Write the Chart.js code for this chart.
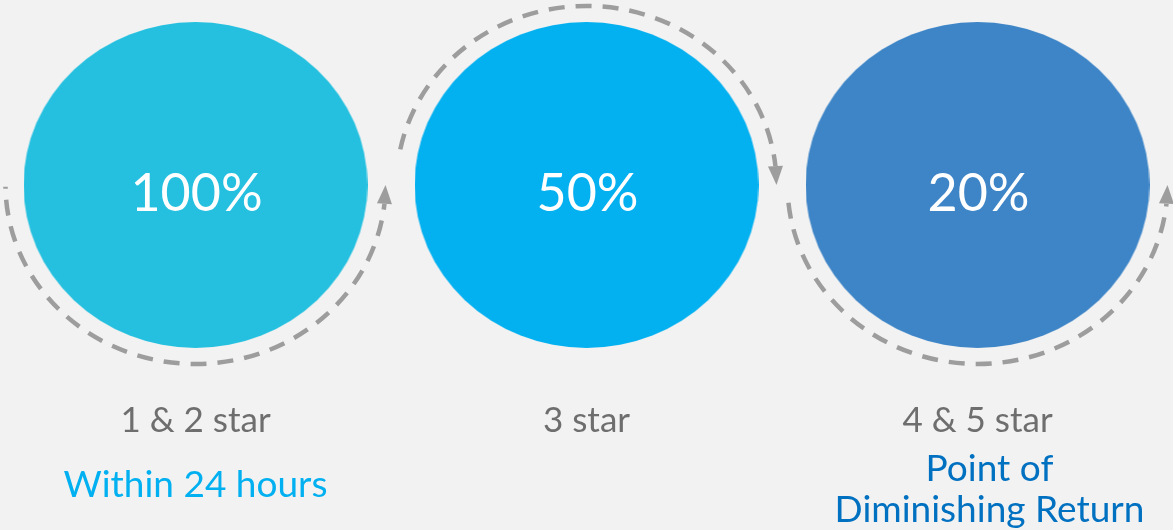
<!DOCTYPE html>
<html>
<head>
<meta charset="utf-8">
<script src="https://cdn.jsdelivr.net/npm/chart.js@4/dist/chart.umd.min.js"></script>
<style>
  html, body { margin: 0; padding: 0; background: #f2f2f2; }
  #wrap { width: 1173px; height: 530px; position: relative; }
</style>
</head>
<body>
<div id="wrap"><canvas id="chart"></canvas></div>
<script>
const categories = ["1 & 2 star", "3 star", "4 & 5 star"];
const shares = [100, 50, 20];
const notes = [["Within 24 hours"], [], ["Point of", "Diminishing Return"]];

const fillColors = ["#25c0df", "#03b0f0", "#3e85c7"];
const noteColors = ["#00b0f0", "#00b0f0", "#0070c0"];

// ellipse images used as point styles
function ellipseImage(color) {
  const c = document.createElement("canvas");
  c.width = 344;
  c.height = 326;
  const ctx = c.getContext("2d");
  ctx.fillStyle = color;
  ctx.beginPath();
  ctx.ellipse(172, 163, 172, 163, 0, 0, Math.PI * 2);
  ctx.fill();
  return c;
}

// dashed arcs round each circle, angles in canvas terms
const arcs = [
  { from: Math.PI - 0.01, to: 0, ccw: true, offset: 14 },
  { from: Math.PI + 0.2, to: Math.PI * 2, ccw: false, offset: 0 },
  { from: Math.PI - 0.1, to: 0, ccw: true, offset: 0 }
];

const decorPlugin = {
  id: "decor",
  afterDatasetsDraw(chart) {
    const ctx = chart.ctx;
    const meta = chart.getDatasetMeta(0);
    const rx = 190, ry = 179;
    meta.data.forEach((el, i) => {
      const cx = el.x, cy = el.y;
      const a = arcs[i];
      const head = 0.105;
      const lineEnd = a.ccw ? a.to + head : a.to - head;

      ctx.save();
      ctx.strokeStyle = "#9d9d9d";
      ctx.fillStyle = "#9d9d9d";
      ctx.lineWidth = 4.5;
      ctx.setLineDash([16, 11]);
      ctx.lineDashOffset = a.offset;
      ctx.beginPath();
      ctx.ellipse(cx, cy, rx, ry, 0, a.from, lineEnd, a.ccw);
      ctx.stroke();

      // arrow head
      const tip = [cx + rx * Math.cos(a.to), cy + ry * Math.sin(a.to)];
      const base = [cx + rx * Math.cos(lineEnd), cy + ry * Math.sin(lineEnd)];
      const dx = tip[0] - base[0], dy = tip[1] - base[1];
      const len = Math.hypot(dx, dy);
      const nx = -dy / len * 7.5, ny = dx / len * 7.5;
      ctx.setLineDash([]);
      ctx.beginPath();
      ctx.moveTo(tip[0], tip[1]);
      ctx.lineTo(base[0] + nx, base[1] + ny);
      ctx.lineTo(base[0] - nx, base[1] - ny);
      ctx.closePath();
      ctx.fill();

      // texts
      ctx.textAlign = "center";
      ctx.textBaseline = "alphabetic";
      ctx.fillStyle = "#ffffff";
      ctx.font = "52px Lato";
      ctx.fillText(shares[i] + "%", cx + 1, cy + 26);

      ctx.fillStyle = "#6e6e6e";
      ctx.font = "35px Lato";
      ctx.fillText(categories[i], cx, 432);

      ctx.fillStyle = noteColors[i];
      ctx.font = "37px Lato";
      const shift = notes[i].length > 1 ? 12 : 0;
      const top = notes[i].length > 1 ? 481 : 497;
      notes[i].forEach((line, k) => {
        ctx.fillText(line, cx + shift, top + k * 41);
      });
      ctx.restore();
    });
  }
};

new Chart(document.getElementById("chart"), {
  type: "scatter",
  data: {
    labels: categories,
    datasets: [{
      data: categories.map(c => ({ x: c, y: 0 })),
      pointStyle: fillColors.map(ellipseImage),
      pointRadius: 1,
      pointHoverRadius: 1,
      pointBorderWidth: 0,
      clip: false
    }]
  },
  options: {
    responsive: true,
    maintainAspectRatio: false,
    animation: false,
    layout: { padding: 0, autoPadding: false },
    scales: {
      x: { type: "category", offset: true, display: false },
      y: { min: -1, max: 0.536, display: false }
    },
    plugins: {
      legend: { display: false },
      tooltip: { enabled: false }
    }
  },
  plugins: [decorPlugin]
});
</script>
</body>
</html>
